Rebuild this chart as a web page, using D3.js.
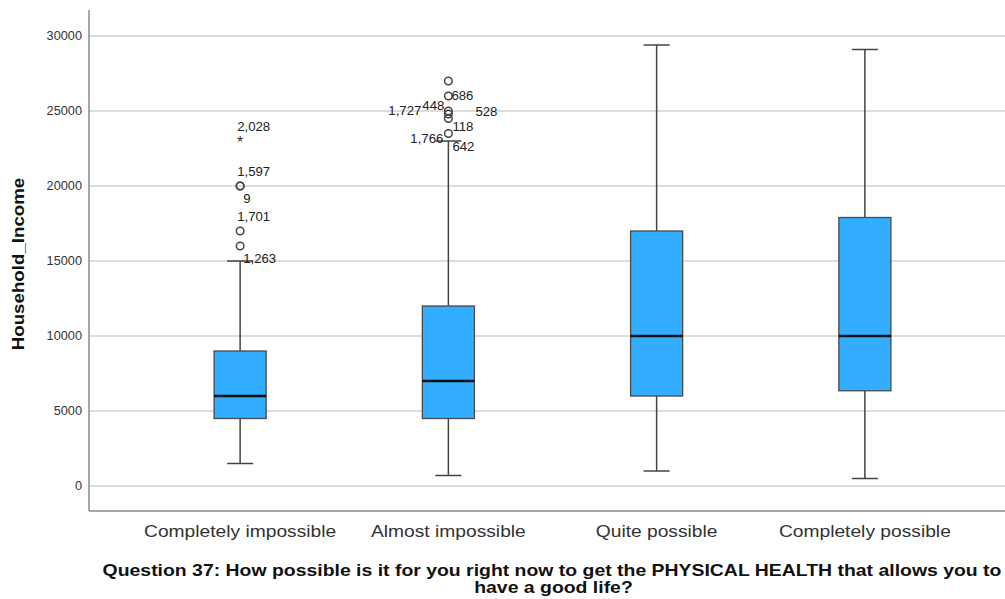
<!DOCTYPE html>
<html>
<head>
<meta charset="utf-8">
<script src="https://cdn.jsdelivr.net/npm/d3@7"></script>
<style>
  html, body { margin: 0; padding: 0; background: #fff; }
  svg { display: block; font-family: "Liberation Sans", Arial, sans-serif; }
</style>
</head>
<body>
<svg id="chart" width="1005" height="599"></svg>
<script>
// Response categories (x axis)
const categories = ["Completely impossible", "Almost impossible", "Quite possible", "Completely possible"];

// Five-number summaries of Household_Income per category
const whiskerLow  = [1500,  700,  1000,  500];
const q1          = [4500,  4500, 6000,  6350];
const median      = [6000,  7000, 10000, 10000];
const q3          = [9000,  12000, 17000, 17900];
const whiskerHigh = [15000, 23000, 29400, 29100];

// Outlying cases: [category index, value, kind]
const outliers = [
  [0, 16000, "o"], [0, 17000, "o"], [0, 20000, "o"], [0, 20000, "o"], [0, 23000, "*"],
  [1, 23500, "o"], [1, 24500, "o"], [1, 24800, "o"], [1, 25000, "o"], [1, 26000, "o"], [1, 27000, "o"]
];

// Case-number labels: [category index, value, text, placement]
const caseLabels = [
  [0, 23000, "2,028", "above"],
  [0, 20000, "1,597", "above"],
  [0, 20000, "9", "below"],
  [0, 17000, "1,701", "above"],
  [0, 16000, "1,263", "below"],
  [1, 26000, "686", "right"],
  [1, 25000, "448", "left"],
  [1, 25000, "1,727", "farLeft"],
  [1, 25000, "528", "farRight"],
  [1, 24500, "118", "belowRight"],
  [1, 23500, "1,766", "leftLow"],
  [1, 23500, "642", "belowRight2"]
];

const yTicks = [0, 5000, 10000, 15000, 20000, 25000, 30000];
const yTitle = "Household_Income";
const xTitleLines = [
  "Question 37: How possible is it for you right now to get the PHYSICAL HEALTH that allows you to",
  "have a good life?"
];

const svg = d3.select("#chart");
const plot = { left: 89, right: 1005, top: 10, bottom: 511 };

const y = d3.scaleLinear().domain([0, 30000]).range([486, 36]);
const x = d3.scaleBand().domain(categories).range([136, 969]).paddingInner(0.75).paddingOuter(0.375);

// widen text horizontally, like the wide sans face used in this report style
function widen(sel, factor) {
  sel.each(function () {
    const w = this.getComputedTextLength();
    d3.select(this).attr("textLength", w * factor).attr("lengthAdjust", "spacingAndGlyphs");
  });
}

// gridlines
svg.append("g").selectAll("line").data(yTicks).join("line")
  .attr("x1", plot.left).attr("x2", plot.right)
  .attr("y1", d => y(d)).attr("y2", d => y(d))
  .attr("stroke", "#d2d2d2").attr("stroke-width", 1.3);

// y tick labels
svg.append("g").selectAll("text").data(yTicks).join("text")
  .attr("x", plot.left - 7).attr("y", d => y(d)).attr("dy", "0.35em")
  .attr("text-anchor", "end").attr("font-size", 12).attr("fill", "#333")
  .text(d => d)
  .call(widen, 1.06);

// axis lines
svg.append("line").attr("x1", plot.left).attr("x2", plot.left).attr("y1", plot.top).attr("y2", plot.bottom)
  .attr("stroke", "#8a8a8a").attr("stroke-width", 1.5);
svg.append("line").attr("x1", plot.left).attr("x2", plot.right).attr("y1", plot.bottom).attr("y2", plot.bottom)
  .attr("stroke", "#8a8a8a").attr("stroke-width", 1.5);

// boxes
const bw = x.bandwidth();
const cx = i => x(categories[i]) + bw / 2;
const g = svg.append("g");
categories.forEach((c, i) => {
  const xc = cx(i);
  // whiskers
  g.append("line").attr("x1", xc).attr("x2", xc).attr("y1", y(q3[i])).attr("y2", y(whiskerHigh[i]))
    .attr("stroke", "#444").attr("stroke-width", 1.5);
  g.append("line").attr("x1", xc).attr("x2", xc).attr("y1", y(q1[i])).attr("y2", y(whiskerLow[i]))
    .attr("stroke", "#444").attr("stroke-width", 1.5);
  [whiskerHigh[i], whiskerLow[i]].forEach(v => {
    g.append("line").attr("x1", xc - bw / 4).attr("x2", xc + bw / 4).attr("y1", y(v)).attr("y2", y(v))
      .attr("stroke", "#444").attr("stroke-width", 1.5);
  });
  // box
  g.append("rect").attr("x", x(c)).attr("width", bw)
    .attr("y", y(q3[i])).attr("height", y(q1[i]) - y(q3[i]))
    .attr("fill", "#33adff").attr("stroke", "#4a4a4a").attr("stroke-width", 1.3);
  // median
  g.append("line").attr("x1", x(c)).attr("x2", x(c) + bw).attr("y1", y(median[i])).attr("y2", y(median[i]))
    .attr("stroke", "#111").attr("stroke-width", 2.5);
});

// outliers
outliers.forEach(([i, v, kind]) => {
  if (kind === "o") {
    g.append("circle").attr("cx", cx(i)).attr("cy", y(v)).attr("r", 3.8)
      .attr("fill", "none").attr("stroke", "#444").attr("stroke-width", 1.5);
  } else {
    g.append("text").attr("x", cx(i)).attr("y", y(v) + 7).attr("text-anchor", "middle")
      .attr("font-size", 16).attr("fill", "#333").text("*");
  }
});

// case labels
const place = {
  above:       { dx: -3,  dy: -10, anchor: "start" },
  below:       { dx: 3,   dy: 17,  anchor: "start" },
  right:       { dx: 3,   dy: 4,   anchor: "start" },
  left:        { dx: -4,  dy: -1,  anchor: "end" },
  farLeft:     { dx: -27, dy: 4,   anchor: "end" },
  farRight:    { dx: 27,  dy: 5,   anchor: "start" },
  belowRight:  { dx: 4,   dy: 12,  anchor: "start" },
  leftLow:     { dx: -5,  dy: 9,   anchor: "end" },
  belowRight2: { dx: 4,   dy: 17,  anchor: "start" }
};
caseLabels.forEach(([i, v, t, p]) => {
  const o = place[p];
  g.append("text").attr("x", cx(i) + o.dx).attr("y", y(v) + o.dy)
    .attr("text-anchor", o.anchor).attr("font-size", 12).attr("fill", "#222").text(t)
    .call(widen, 1.1);
});

// category labels
svg.append("g").selectAll("text").data(categories).join("text")
  .attr("x", (d, i) => cx(i)).attr("y", 537)
  .attr("text-anchor", "middle").attr("font-size", 17).attr("fill", "#333")
  .text(d => d)
  .call(widen, 1.13);

// axis titles
svg.append("text").attr("transform", "translate(24,264) rotate(-90)")
  .attr("text-anchor", "middle").attr("font-size", 17).attr("font-weight", "bold").attr("fill", "#111")
  .text(yTitle)
  .call(widen, 1.1);
svg.append("g").selectAll("text").data(xTitleLines).join("text")
  .attr("x", (d, i) => i === 0 ? 552 : 553.5).attr("y", (d, i) => 576 + i * 17)
  .attr("text-anchor", "middle").attr("font-size", 17).attr("font-weight", "bold").attr("fill", "#111")
  .text(d => d)
  .call(widen, 1.142);
</script>
</body>
</html>
